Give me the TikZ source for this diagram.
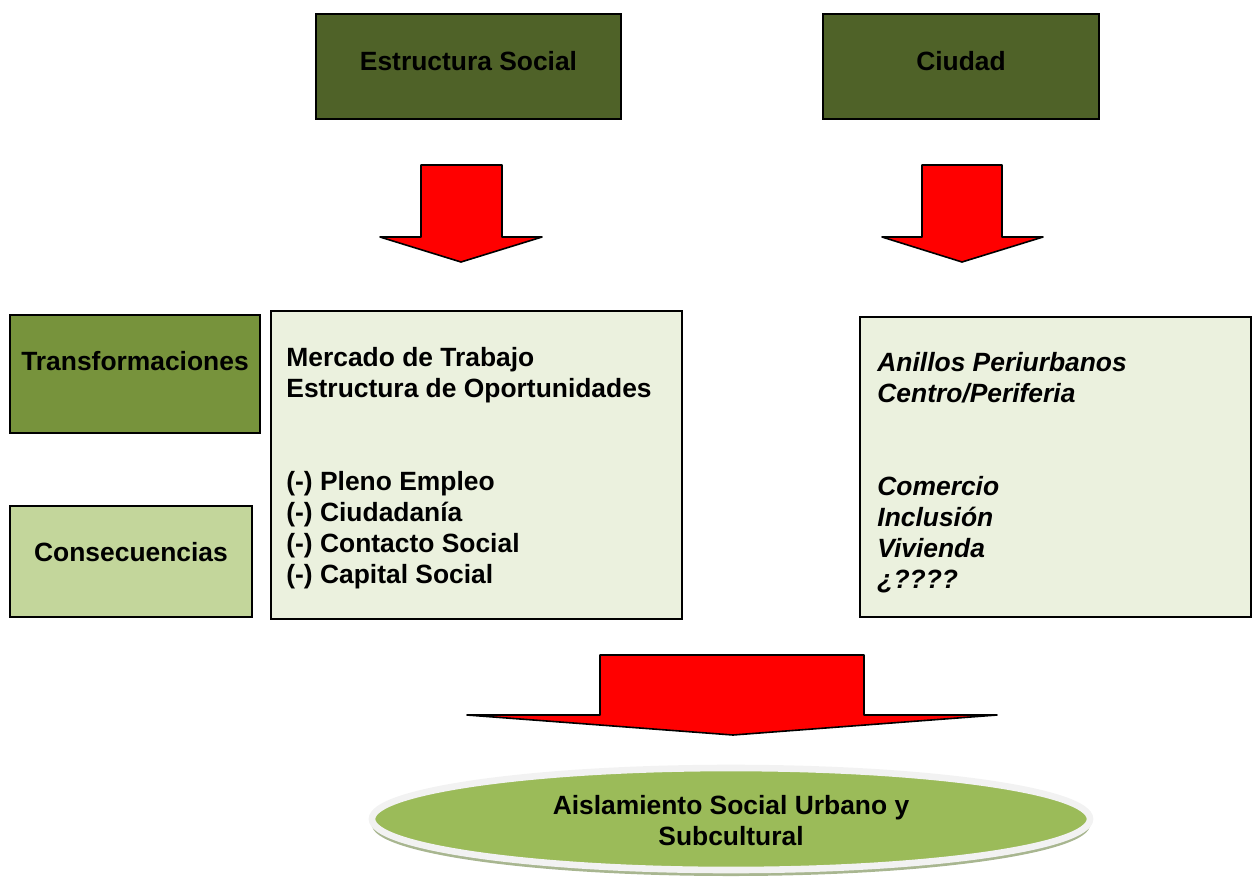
\documentclass[tikz,border=0pt]{standalone}
\usepackage{fontspec}
\setmainfont{Liberation Sans}
\usepackage{xcolor}
\usetikzlibrary{shapes.geometric,shadows}

\definecolor{olivedark}{HTML}{4F6228}
\definecolor{olivemid}{HTML}{77933C}
\definecolor{olivelight}{HTML}{C3D69B}
\definecolor{olivepale}{HTML}{EBF1DE}
\definecolor{ovalgreen}{HTML}{9BBB59}
\definecolor{rimgray}{HTML}{F2F2F2}
\definecolor{shadegreen}{HTML}{A8B690}

\begin{document}
\begin{tikzpicture}[x=0.5pt, y=-0.5pt,
  txt/.style={font=\fontsize{13.2}{15.5}\selectfont\bfseries, inner sep=0pt},
  box/.style={draw=black, line width=0.9pt, inner sep=0pt},
  bigarrow/.style={fill=red, draw=black, line width=0.8pt, line join=round}]
  \useasboundingbox (0,0) rectangle (1253,879);

  % Top boxes
  \node[box, fill=olivedark, minimum width=152.5pt, minimum height=52.5pt] (estructura) at (468.5,66.5) {};
  \node[txt] (estructuratxt) at (468.5,61) {Estructura Social};
  \node[box, fill=olivedark, minimum width=138pt, minimum height=52.5pt] (ciudad) at (961,66.5) {};
  \node[txt] (ciudadtxt) at (961,61) {Ciudad};

  % Red arrows
  \filldraw[bigarrow] (421,165) -- (502,165) -- (502,237) -- (542,237) -- (461,262) -- (380,237) -- (421,237) -- cycle;
  \filldraw[bigarrow] (922,165) -- (1002,165) -- (1002,237) -- (1043,237) -- (962,262) -- (882,237) -- (922,237) -- cycle;

  % Left labels
  \node[box, fill=olivemid, minimum width=125pt, minimum height=59pt] (transf) at (135,374) {};
  \node[txt] (transftxt) at (135,361) {Transformaciones};
  \node[box, fill=olivelight, minimum width=121pt, minimum height=55.5pt] (consec) at (131,561.5) {};
  \node[txt] (consectxt) at (131,552) {Consecuencias};

  % Middle and right boxes
  \node[box, fill=olivepale, minimum width=205.5pt, minimum height=154pt] (social) at (476.5,465) {};
  \node[txt, anchor=north west, align=left] (socialtxt) at (286,347)
    {Mercado de Trabajo\\Estructura de Oportunidades\\[31pt](-) Pleno Empleo\\(-) Ciudadan\'ia\\(-) Contacto Social\\(-) Capital Social};
  \node[box, fill=olivepale, minimum width=195.5pt, minimum height=150pt] (urbano) at (1055.5,467) {};
  \node[txt, font=\fontsize{13.2}{15.5}\selectfont\bfseries\itshape, anchor=north west, align=left] (urbanotxt) at (877,352)
    {Anillos Periurbanos\\Centro/Periferia\\[31pt]Comercio\\Inclusi\'on\\Vivienda\\¿????};

  % Bottom arrow and result
  \filldraw[bigarrow] (600,655) -- (864,655) -- (864,715) -- (997,715) -- (733,735) -- (467,715) -- (600,715) -- cycle;
  \node[ellipse, fill=ovalgreen, draw=rimgray, line width=3.3pt, inner sep=0pt,
        minimum width=359pt, minimum height=51pt,
        drop shadow={shadow xshift=0pt, shadow yshift=-3pt, fill=shadegreen, opacity=1}] (aislamiento) at (731,819) {};
  \node[txt, align=center] (aislamientotxt) at (731,821) {Aislamiento Social Urbano y\\Subcultural};
\end{tikzpicture}
\end{document}
